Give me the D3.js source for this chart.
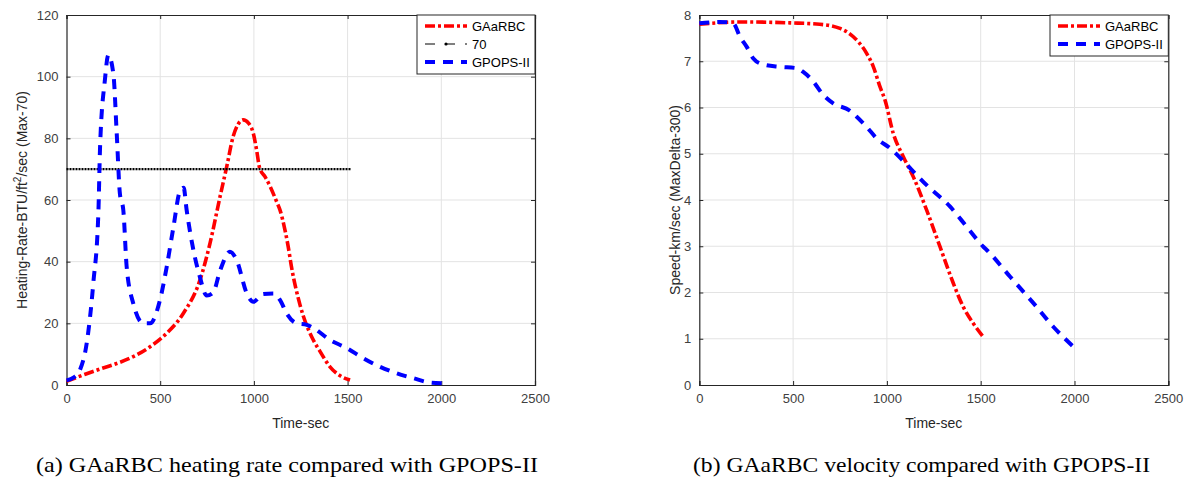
<!DOCTYPE html>
<html><head><meta charset="utf-8">
<script src="https://cdn.jsdelivr.net/npm/d3@7"></script>
<style>
html,body{margin:0;padding:0;background:#fff;}
svg{display:block;}
</style></head>
<body>
<svg id="chart" width="1192" height="478"></svg>
<script>
// ---- Data: (a) heating rate ----
const heatTimeGA = [0, 100, 180, 260, 356, 446, 535, 623, 712, 766, 819, 855, 889, 915, 943, 970, 997, 1015, 1030, 1060, 1086, 1121, 1139, 1165, 1183, 1200, 1246, 1317, 1352, 1406, 1460, 1513];
const heatGA     = [1.2, 3.5, 5.2, 6.8, 9.2, 12.4, 16.8, 23.2, 34, 46, 61, 70.8, 80.5, 84.5, 86, 85, 81.6, 76, 70.5, 67.5, 64.5, 59.5, 56.8, 50.5, 44.9, 38.5, 26, 14.6, 11, 5.9, 3, 1.6];
const heatTimeGP = [0, 40, 72, 108, 143, 170, 179, 205, 223, 250, 268, 285, 303, 321, 356, 410, 446, 499, 535, 570, 606, 625, 641, 677, 712, 748, 783, 819, 872, 908, 962, 997, 1050, 1104, 1139, 1175, 1228, 1282, 1317, 1406, 1495, 1584, 1673, 1762, 1851, 1940, 2002];
const heatGP     = [1.5, 2.5, 4.9, 13.6, 33, 55.7, 77, 99, 107, 101, 81.6, 62, 56.8, 38.4, 26.5, 20, 20, 27.6, 38.4, 51, 63, 64, 56.8, 43.8, 35, 29, 30, 37, 43.2, 40.5, 29.7, 27, 29.5, 29.7, 27.6, 23.2, 20, 19.5, 18.5, 14.6, 12, 8.7, 5.9, 3.8, 2.2, 0.8, 0.6];
const heatLimit = 70;
const heatLimitEnd = 1520;

// ---- Data: (b) velocity ----
const speedTimeGA = [0, 217, 483, 642, 750, 821, 892, 928, 963, 990, 1034, 1087, 1141, 1212, 1283, 1354, 1407, 1461, 1514];
const speedGA     = [7.80, 7.85, 7.83, 7.80, 7.71, 7.53, 7.17, 6.88, 6.45, 6.16, 5.44, 4.94, 4.50, 3.78, 2.99, 2.20, 1.69, 1.33, 1.04];
const speedTimeGP = [0, 110, 181, 217, 253, 288, 341, 430, 519, 554, 608, 661, 714, 803, 839, 892, 946, 1017, 1088, 1159, 1212, 1336, 1426, 1514, 1532, 1657, 1781, 1887, 2012];
const speedGP     = [7.82, 7.85, 7.82, 7.53, 7.31, 7.06, 6.93, 6.88, 6.85, 6.77, 6.56, 6.27, 6.09, 5.93, 5.80, 5.58, 5.33, 5.12, 4.84, 4.54, 4.32, 3.86, 3.42, 2.99, 2.92, 2.34, 1.77, 1.26, 0.76];

// ---- Ticks ----
const xTicks = [0, 500, 1000, 1500, 2000, 2500];
const heatTicks = [0, 20, 40, 60, 80, 100, 120];
const speedTicks = [0, 1, 2, 3, 4, 5, 6, 7, 8];

const svg = d3.select("#chart");
const axisColor = "#262626";
const tickColor = "#404040";
const gridColor = "#e3e3e3";

function panel(opt) {
  const {left, right, top, bottom, yMax, yTicks} = opt;
  const x = d3.scaleLinear().domain([0, 2500]).range([left, right]);
  const y = d3.scaleLinear().domain([0, yMax]).range([bottom, top]);
  const g = svg.append("g");
  g.append("g").selectAll("line").data(xTicks.slice(1, -1)).join("line")
    .attr("x1", d => x(d)).attr("x2", d => x(d)).attr("y1", top).attr("y2", bottom)
    .attr("stroke", gridColor).attr("stroke-width", 1);
  g.append("g").selectAll("line").data(yTicks.slice(1, -1)).join("line")
    .attr("y1", d => y(d)).attr("y2", d => y(d)).attr("x1", left).attr("x2", right)
    .attr("stroke", gridColor).attr("stroke-width", 1);
  const xa = g.append("g").attr("transform", `translate(0,${bottom})`)
    .call(d3.axisBottom(x).tickValues(xTicks).tickSize(-4).tickPadding(9).tickFormat(d3.format("d")));
  const xt = g.append("g").attr("transform", `translate(0,${top})`)
    .call(d3.axisTop(x).tickValues(xTicks).tickSize(-4).tickFormat(""));
  const ya = g.append("g").attr("transform", `translate(${left},0)`)
    .call(d3.axisLeft(y).tickValues(yTicks).tickSize(-4).tickPadding(8).tickFormat(d3.format("d")));
  const yr = g.append("g").attr("transform", `translate(${right},0)`)
    .call(d3.axisRight(y).tickValues(yTicks).tickSize(-4).tickFormat(""));
  [xa, xt, ya, yr].forEach(a => {
    a.select(".domain").attr("stroke", axisColor).attr("stroke-width", 1.2);
    a.selectAll(".tick line").attr("stroke", axisColor);
    a.selectAll(".tick text").attr("fill", tickColor)
      .style("font-family", "'Liberation Sans', Arial, sans-serif").style("font-size", "13px");
  });
  return {x, y, g};
}

function drawLine(p, xs, ys, color, width, dash) {
  const pts = xs.map((t, i) => [t, ys[i]]);
  const line = d3.line().x(d => p.x(d[0])).y(d => p.y(d[1])).curve(d3.curveMonotoneX);
  p.g.append("path").datum(pts).attr("d", line).attr("fill", "none")
    .attr("stroke", color).attr("stroke-width", width).attr("stroke-dasharray", dash)
    .attr("stroke-linejoin", "round");
}

const font = "'Liberation Sans', Arial, sans-serif";

// ---- Panel (a) ----
const pa = panel({left: 66.5, right: 535, top: 15, bottom: 385, yMax: 120, yTicks: heatTicks});
drawLine(pa, heatTimeGA, heatGA, "#ff0000", 3.6, "10,3,3,3");
pa.g.append("line").attr("x1", pa.x(0)).attr("x2", pa.x(heatLimitEnd))
  .attr("y1", pa.y(heatLimit)).attr("y2", pa.y(heatLimit))
  .attr("stroke", "#000").attr("stroke-width", 2.2).attr("stroke-dasharray", "2,1");
drawLine(pa, heatTimeGP, heatGP, "#0000ff", 4, "10,8");

// ---- Panel (b) ----
const pb = panel({left: 699.3, right: 1168.3, top: 15, bottom: 385, yMax: 8, yTicks: speedTicks});
drawLine(pb, speedTimeGA, speedGA, "#ff0000", 3.6, "10,3,3,3");
drawLine(pb, speedTimeGP, speedGP, "#0000ff", 4, "10,8");

// ---- Axis labels ----
svg.append("text").attr("x", (66.5 + 535) / 2).attr("y", 428).attr("text-anchor", "middle")
  .style("font-family", font).style("font-size", "14px").attr("fill", "#262626").text("Time-sec");
svg.append("text").attr("x", (699.3 + 1168.3) / 2).attr("y", 428).attr("text-anchor", "middle")
  .style("font-family", font).style("font-size", "14px").attr("fill", "#262626").text("Time-sec");

const yl = svg.append("text").attr("transform", "translate(27,200) rotate(-90)").attr("text-anchor", "middle")
  .style("font-family", font).style("font-size", "14px").attr("fill", "#262626");
yl.append("tspan").text("Heating-Rate-BTU/ft");
yl.append("tspan").attr("dy", -6).style("font-size", "10px").text("2");
yl.append("tspan").attr("dy", 6).text("/sec (Max-70)");

svg.append("text").attr("transform", "translate(680,200) rotate(-90)").attr("text-anchor", "middle")
  .style("font-family", font).style("font-size", "14px").attr("fill", "#262626")
  .text("Speed-km/sec (MaxDelta-300)");

// ---- Legends ----
function legend(x0, x1, y0, entries) {
  const h = entries.length * 18 + 5;
  svg.append("rect").attr("x", x0).attr("y", y0).attr("width", x1 - x0).attr("height", h)
    .attr("fill", "#fff").attr("stroke", axisColor).attr("stroke-width", 1);
  entries.forEach((e, i) => {
    const cy = y0 + 11 + i * 18;
    svg.append("line").attr("x1", x0 + 8).attr("x2", x0 + 50).attr("y1", cy).attr("y2", cy)
      .attr("stroke", e.color).attr("stroke-width", e.width).attr("stroke-dasharray", e.dash);
    if (e.marker) {
      svg.append("circle").attr("cx", x0 + 29).attr("cy", cy).attr("r", 1.6).attr("fill", e.color);
    }
    svg.append("text").attr("x", x0 + 55).attr("y", cy + 5)
      .style("font-family", font).style("font-size", "13px").attr("fill", "#000").text(e.label);
  });
}
legend(417, 535, 15, [
  {label: "GAaRBC", color: "#ff0000", width: 3.6, dash: "10,3,3,3"},
  {label: "70", color: "#000", width: 1, dash: "10,10", marker: true},
  {label: "GPOPS-II", color: "#0000ff", width: 4, dash: "10,8"}
]);
legend(1050, 1168.3, 15, [
  {label: "GAaRBC", color: "#ff0000", width: 3.6, dash: "10,3,3,3"},
  {label: "GPOPS-II", color: "#0000ff", width: 4, dash: "10,8"}
]);

// ---- Captions ----
const capFont = "'Liberation Serif', 'Times New Roman', serif";
svg.append("text").attr("x", 36).attr("y", 472)
  .attr("textLength", 502).attr("lengthAdjust", "spacingAndGlyphs")
  .style("font-family", capFont).style("font-size", "21px").attr("fill", "#000")
  .text("(a) GAaRBC heating rate compared with GPOPS-II");
svg.append("text").attr("x", 693).attr("y", 472)
  .attr("textLength", 457).attr("lengthAdjust", "spacingAndGlyphs")
  .style("font-family", capFont).style("font-size", "21px").attr("fill", "#000")
  .text("(b) GAaRBC velocity compared with GPOPS-II");
</script>
</body></html>
